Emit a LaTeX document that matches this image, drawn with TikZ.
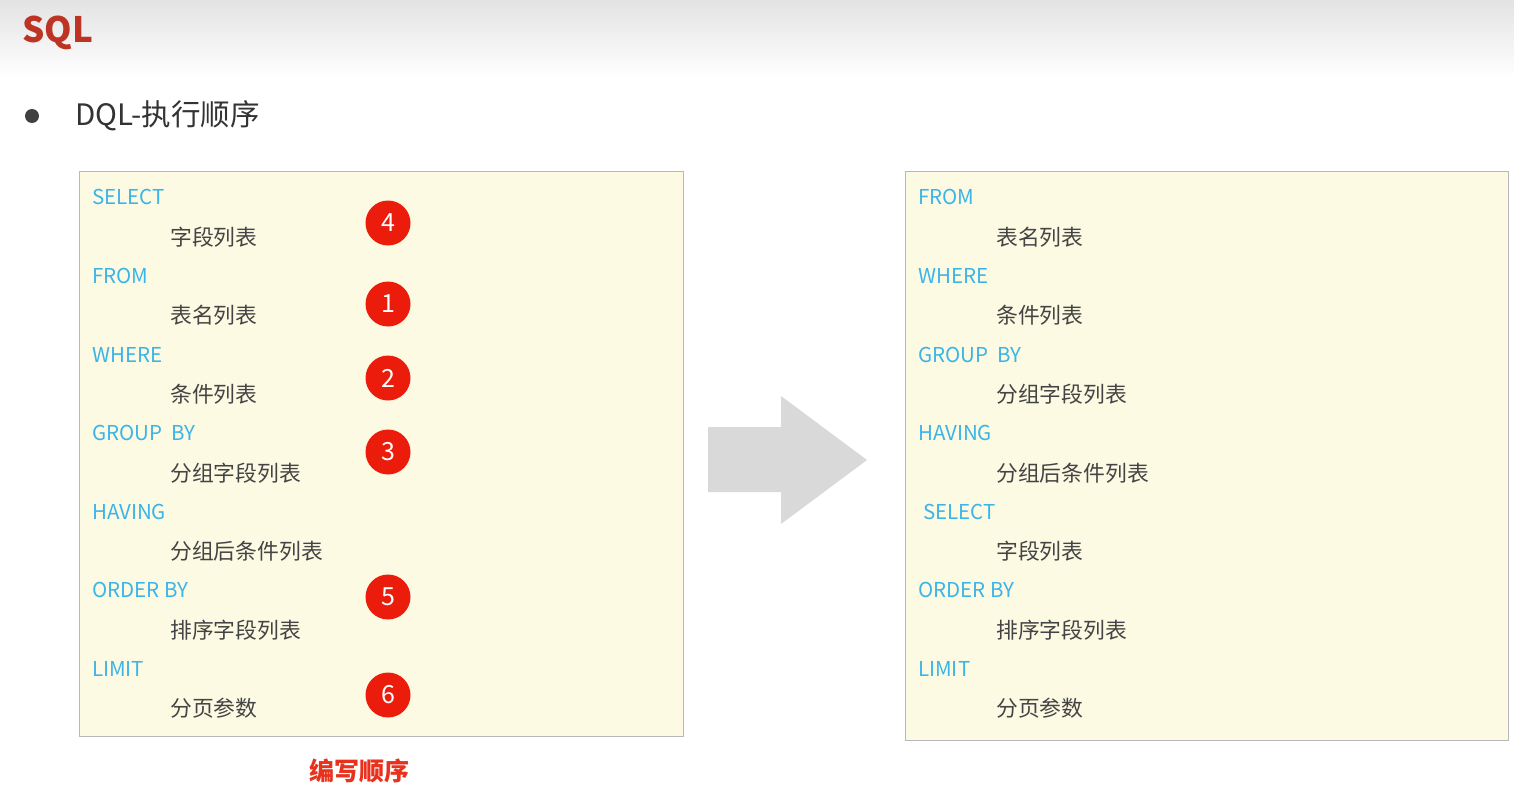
\documentclass[tikz,border=0pt]{standalone}
\usepackage{fontspec}
\setmainfont{Noto Sans CJK SC}
\begin{document}
\begin{tikzpicture}[x=1pt,y=-1pt,
  kw/.style={anchor=west,inner sep=0pt,text=kwblue,font=\fontsize{20.5}{24}\selectfont},
  item/.style={anchor=west,inner sep=0pt,text=itemgray,font=\fontsize{21.8}{24}\selectfont},
  num/.style={circle,fill=numred,text=white,minimum size=45pt,inner sep=0pt,font=\fontsize{25}{26}\selectfont},
  panel/.style={draw=boxgray,line width=1.2pt,fill=cream}]
\definecolor{kwblue}{HTML}{3BB4E8}
\definecolor{itemgray}{HTML}{444444}
\definecolor{numred}{HTML}{EC1C0C}
\definecolor{boxgray}{HTML}{B8B8B8}
\definecolor{cream}{HTML}{FDFAE3}
\definecolor{titlered}{HTML}{BE3424}
\definecolor{arrowgray}{HTML}{D9D9D9}
\definecolor{labelred}{HTML}{E8321E}
\useasboundingbox (0,0) rectangle (1514,787);
\fill[white] (0,0) rectangle (1514,787);
\shade[top color=black!11, bottom color=white] (0,0) rectangle (1514,78);
\node[anchor=west,inner sep=0pt,text=titlered,font=\fontsize{35}{40}\selectfont\bfseries] (title) at (22,33) {SQL};
\fill[black!75] (32,116) circle (7);
\node[anchor=west,inner sep=0pt,text=black!80,font=\fontsize{29.5}{32}\selectfont] (sub) at (75,116) {DQL-执行顺序};
% left panel
\node[panel,anchor=north west,minimum width=604pt,minimum height=565pt,inner sep=0pt] (left) at (79,171) {};
\node[kw] (l1) at (92,197) {SELECT};
\node[item] (l1i) at (170,237) {字段列表};
\node[kw] (l2) at (92,276) {FROM};
\node[item] (l2i) at (170,315) {表名列表};
\node[kw] (l3) at (92,355) {WHERE};
\node[item] (l3i) at (170,394) {条件列表};
\node[kw] (l4) at (92,433) {GROUP\ \ BY};
\node[item] (l4i) at (170,473) {分组字段列表};
\node[kw] (l5) at (92,512) {HAVING};
\node[item] (l5i) at (170,551) {分组后条件列表};
\node[kw] (l6) at (92,590) {ORDER BY};
\node[item] (l6i) at (170,630) {排序字段列表};
\node[kw] (l7) at (92,669) {LIMIT};
\node[item] (l7i) at (170,708) {分页参数};
\node[num] (n4) at (388,223) {4};
\node[num] (n1) at (388,304) {1};
\node[num] (n2) at (388,378) {2};
\node[num] (n3) at (388,452) {3};
\node[num] (n5) at (388,597) {5};
\node[num] (n6) at (388,695) {6};
\node[anchor=west,inner sep=0pt,text=labelred,font=\fontsize{25}{28}\selectfont\bfseries] (caption) at (309,771) {编写顺序};
% arrow
\fill[arrowgray] (708,427) -- (781,427) -- (781,396) -- (867,460) -- (781,524) -- (781,492) -- (708,492) -- cycle;
% right panel
\node[panel,anchor=north west,minimum width=603pt,minimum height=569pt,inner sep=0pt] (right) at (905,171) {};
\node[kw] (r1) at (918,197) {FROM};
\node[item] (r1i) at (996,237) {表名列表};
\node[kw] (r2) at (918,276) {WHERE};
\node[item] (r2i) at (996,315) {条件列表};
\node[kw] (r3) at (918,355) {GROUP\ \ BY};
\node[item] (r3i) at (996,394) {分组字段列表};
\node[kw] (r4) at (918,433) {HAVING};
\node[item] (r4i) at (996,473) {分组后条件列表};
\node[kw] (r5) at (923,512) {SELECT};
\node[item] (r5i) at (996,551) {字段列表};
\node[kw] (r6) at (918,590) {ORDER BY};
\node[item] (r6i) at (996,630) {排序字段列表};
\node[kw] (r7) at (918,669) {LIMIT};
\node[item] (r7i) at (996,708) {分页参数};
\end{tikzpicture}
\end{document}
